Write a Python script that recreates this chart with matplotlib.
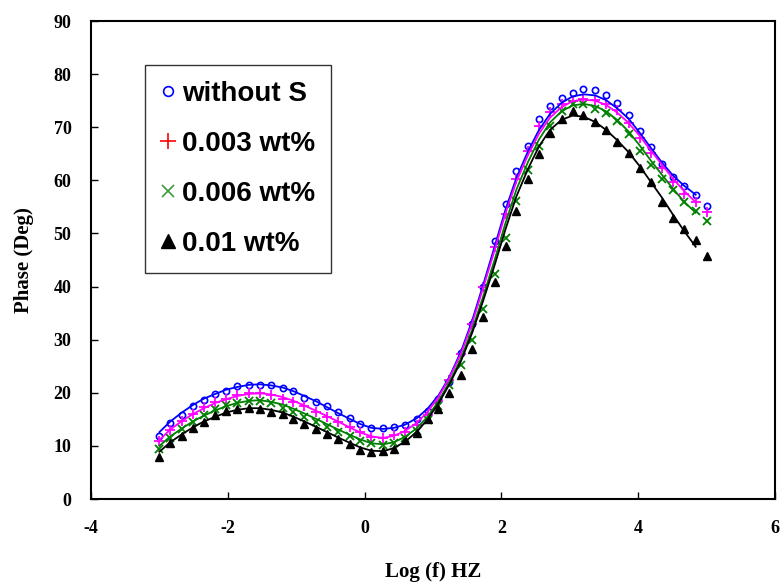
import matplotlib
matplotlib.use("Agg")
import matplotlib.pyplot as plt
from matplotlib.lines import Line2D

plt.rcParams["axes.unicode_minus"] = False

# log(f) of the measured points
log_f = [-3.00, -2.84, -2.67, -2.51, -2.35, -2.18, -2.02, -1.86, -1.69, -1.53,
         -1.37, -1.20, -1.04, -0.88, -0.71, -0.55, -0.39, -0.22, -0.06, 0.10,
         0.27, 0.43, 0.59, 0.76, 0.92, 1.08, 1.24, 1.41, 1.57, 1.73,
         1.90, 2.06, 2.22, 2.39, 2.55, 2.71, 2.88, 3.04, 3.20, 3.37,
         3.53, 3.69, 3.86, 4.02, 4.18, 4.35, 4.51, 4.67, 4.84, 5.00]

# measured phase (deg)
phase_blank = [11.8, 14.4, 15.9, 17.5, 18.7, 19.7, 20.4, 21.2, 21.5, 21.5,
               21.4, 20.9, 20.3, 19.1, 18.3, 17.5, 16.3, 15.2, 14.2, 13.3,
               13.3, 13.5, 14.0, 15.0, 16.5, 18.8, 22.0, 27.5, 33.0, 39.9,
               48.5, 55.5, 61.8, 66.5, 71.5, 74.0, 75.6, 76.5, 77.2, 77.0,
               76.0, 74.5, 72.3, 69.3, 66.3, 63.1, 60.7, 59.0, 57.3, 55.2]
phase_003 = [10.9, 13.0, 14.7, 16.1, 17.3, 18.2, 18.9, 19.5, 19.9, 19.9,
             19.5, 18.9, 18.3, 17.5, 16.3, 15.5, 14.5, 13.5, 12.6, 11.7,
             11.5, 12.0, 12.6, 13.9, 15.8, 18.4, 22.4, 27.4, 33.0, 40.0,
             47.5, 53.7, 60.3, 65.6, 70.3, 72.8, 74.3, 75.0, 75.3, 75.1,
             74.4, 73.2, 70.8, 68.0, 65.1, 62.3, 59.6, 57.4, 56.0, 54.0]
phase_006 = [9.5, 11.4, 13.1, 14.5, 15.8, 16.9, 17.7, 18.1, 18.5, 18.5,
             18.0, 17.2, 16.4, 15.5, 14.5, 13.6, 12.6, 11.8, 11.0, 10.5,
             10.2, 10.5, 11.4, 12.8, 14.8, 17.5, 21.4, 25.3, 29.9, 35.8,
             42.3, 49.2, 56.1, 61.9, 66.5, 70.3, 73.1, 74.4, 74.4, 73.5,
             72.7, 71.2, 68.8, 65.6, 62.8, 60.3, 58.2, 56.0, 54.3, 52.4]
phase_01 = [7.9, 10.6, 11.8, 13.3, 14.5, 15.8, 16.5, 16.9, 17.2, 16.9,
            16.3, 16.0, 15.0, 14.1, 13.1, 12.2, 11.3, 10.3, 9.2, 8.9,
            9.0, 9.5, 11.1, 12.4, 15.0, 17.0, 19.9, 23.3, 28.3, 34.3,
            40.8, 47.7, 54.3, 60.3, 65.0, 68.9, 71.5, 73.0, 72.4, 70.9,
            69.4, 67.3, 65.2, 62.4, 59.6, 55.9, 52.9, 50.9, 48.7, 45.8]

# fitted curves (same log f, last point left out)
fit_blank = [12.6, 14.6, 16.3, 17.7, 18.9, 19.8, 20.6, 21.1, 21.5, 21.6,
             21.4, 21.0, 20.3, 19.4, 18.4, 17.3, 16.2, 15.1, 14.1, 13.4,
             13.2, 13.4, 14.0, 15.2, 17.0, 19.5, 23.0, 27.8, 33.5, 40.2,
             47.5, 54.5, 60.5, 65.5, 69.5, 72.5, 74.6, 75.8, 76.2, 76.0,
             75.1, 73.6, 71.6, 69.0, 66.2, 63.3, 60.9, 59.0, 57.3]
fit_003 = [11.1, 13.1, 14.7, 16.0, 17.1, 18.1, 18.8, 19.4, 19.8, 19.9,
           19.7, 19.2, 18.5, 17.6, 16.6, 15.6, 14.6, 13.5, 12.5, 11.8,
           11.5, 11.9, 12.8, 14.3, 16.4, 19.2, 22.8, 27.4, 33.0, 39.6,
           46.8, 53.8, 59.8, 64.8, 68.8, 71.8, 73.8, 74.9, 75.2, 75.0,
           74.2, 72.8, 70.8, 68.4, 65.7, 62.9, 60.3, 58.0, 55.9]
fit_006 = [10.0, 11.8, 13.3, 14.6, 15.7, 16.7, 17.5, 18.1, 18.5, 18.6,
           18.3, 17.8, 17.0, 16.1, 15.1, 14.1, 13.1, 12.1, 11.2, 10.5,
           10.3, 10.7, 11.7, 13.3, 15.5, 18.4, 22.0, 26.5, 31.8, 38.0,
           45.0, 52.0, 58.3, 63.5, 67.7, 70.9, 73.0, 74.1, 74.4, 74.0,
           73.0, 71.4, 69.2, 66.6, 63.8, 61.0, 58.4, 56.0, 53.9]
fit_01 = [8.9, 10.7, 12.2, 13.5, 14.6, 15.5, 16.3, 16.8, 17.1, 17.1,
          16.8, 16.3, 15.5, 14.6, 13.6, 12.6, 11.6, 10.6, 9.7, 9.1,
          9.0, 9.6, 10.8, 12.6, 15.0, 18.0, 21.6, 26.0, 31.2, 37.2,
          44.0, 50.8, 57.0, 62.2, 66.4, 69.5, 71.4, 72.2, 72.0, 71.0,
          69.5, 67.6, 65.3, 62.7, 59.8, 56.7, 53.5, 50.5, 47.5]

labels = ["without S", "0.003 wt%", "0.006 wt%", "0.01 wt%"]

fig = plt.figure(figsize=(7.83, 5.84), dpi=100)
ax = fig.add_axes([0.1162, 0.1455, 0.8736, 0.8185])

serif = "Liberation Serif"

ax.plot(log_f, phase_blank, "o", ms=4.5, mfc="none", mec="#0000ff", mew=1.2)
ax.plot(log_f, phase_003, "+", ms=6.5, color="#ff00ff", mew=1.3)
ax.plot(log_f, phase_006, "x", ms=5.5, color="#008000", mew=1.3)
ax.plot(log_f, phase_01, "^", ms=6, color="black")

n = len(fit_blank)
ax.plot(log_f[:n], fit_blank, color="#0000ff", lw=1.3)
ax.plot(log_f[:n], fit_003, color="#ff00ff", lw=1.3)
ax.plot(log_f[:n], fit_006, color="#008000", lw=1.3)
ax.plot(log_f[:n], fit_01, color="black", lw=1.3)

ax.set_xlim(-4, 6)
ax.set_ylim(0, 90)
ax.set_xticks(range(-4, 7, 2))
ax.set_yticks(range(0, 91, 10))
ax.tick_params(direction="in", length=5, width=1, top=False, right=False)
ax.tick_params(axis="y", pad=14)
ax.tick_params(axis="x", pad=15)
for lab in ax.get_xticklabels() + ax.get_yticklabels():
    lab.set_fontfamily(serif)
    lab.set_fontweight("bold")
    lab.set_fontsize(13)
for sp in ax.spines.values():
    sp.set_linewidth(1.5)

ax.set_xlabel("Log (f) HZ", fontfamily=serif, fontweight="bold", fontsize=15, labelpad=18)
ax.set_ylabel("Phase (Deg)", fontfamily=serif, fontweight="bold", fontsize=15, labelpad=14)

handles = [
    Line2D([], [], ls="none", marker="o", ms=7, mfc="none", mec="#0000ff", mew=1.2),
    Line2D([], [], ls="none", marker="+", ms=11, color="#ff0000", mew=1.2),
    Line2D([], [], ls="none", marker="x", ms=9, color="#3a9a3a", mew=1.2),
    Line2D([], [], ls="none", marker="^", ms=10, color="black"),
]
leg = ax.legend(handles, labels, loc="upper left", bbox_to_anchor=(0.079, 0.908),
                borderaxespad=0, fancybox=False, frameon=True, edgecolor="black",
                prop={"family": "Liberation Sans", "size": 20, "weight": "bold"},
                handlelength=0.5, handletextpad=0.25, labelspacing=0.86,
                borderpad=0.58)
leg.get_frame().set_linewidth(1.0)

fig.savefig("out.png", dpi=100)
